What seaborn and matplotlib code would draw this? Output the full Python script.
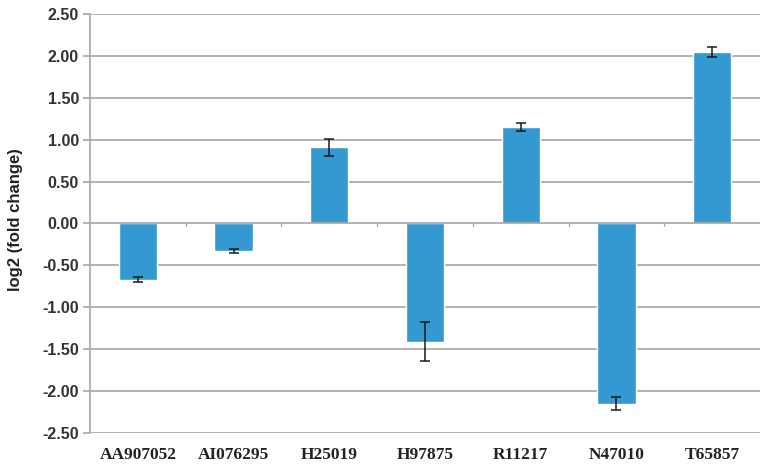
import matplotlib
matplotlib.use("Agg")
import matplotlib.pyplot as plt
import matplotlib.transforms as mtransforms
import numpy as np
import pandas as pd
import seaborn as sns

genes = ["AA907052", "AI076295", "H25019", "H97875", "R11217", "N47010", "T65857"]
log2_fc = [-0.67, -0.33, 0.91, -1.41, 1.15, -2.15, 2.05]
errors = [0.03, 0.02, 0.10, 0.23, 0.05, 0.08, 0.06]
y_ticks = [-2.5, -2.0, -1.5, -1.0, -0.5, 0.0, 0.5, 1.0, 1.5, 2.0, 2.5]

df = pd.DataFrame({"gene": genes, "fc": log2_fc, "err": errors})

sns.set_theme(style="white")
fig = plt.figure(figsize=(7.63, 4.70), dpi=100)
ax = fig.add_axes([0.118, 0.079, 0.878, 0.891])

bar_color = "#3399d0"
grid_color = "#a6a6a6"

sns.barplot(data=df, x="gene", y="fc", color=bar_color, width=0.4,
            saturation=1, ax=ax, zorder=3, errorbar=None)
ax.errorbar(x=np.arange(len(genes)), y=df["fc"], yerr=df["err"], fmt="none",
            ecolor="#1a1a1a", elinewidth=1.1, capsize=3.5, capthick=1.1, zorder=4)

ax.set_ylim(-2.5, 2.5)
ax.set_xlim(-0.5, len(genes) - 0.5)
ax.set_yticks(y_ticks)
ax.set_yticklabels([f"{v:.2f}" for v in y_ticks])

# horizontal gridlines
for v in y_ticks:
    if v != 0:
        ax.axhline(v, color=grid_color, lw=1.2, zorder=1)
ax.axhline(0, color=grid_color, lw=1.2, zorder=5)

# small category-divider ticks on the zero line
trans = mtransforms.blended_transform_factory(ax.transData, ax.transAxes)
for b in np.arange(0.5, len(genes) - 0.5, 1.0):
    ax.plot([b, b], [0.5, 0.493], transform=trans, color=grid_color, lw=0.9, zorder=5)

for side in ["top", "right", "bottom"]:
    ax.spines[side].set_visible(False)
ax.spines["left"].set_color(grid_color)
ax.spines["left"].set_linewidth(1.2)

ax.tick_params(axis="y", which="major", length=5, width=1.2, color=grid_color,
               direction="out", left=True, pad=3)
ax.tick_params(axis="x", length=0, pad=10)

for lbl in ax.get_yticklabels():
    lbl.set_fontfamily(["Liberation Sans", "DejaVu Sans"])
    lbl.set_fontweight("bold")
    lbl.set_fontsize(11.5)
    lbl.set_color("#333333")
for lbl in ax.get_xticklabels():
    lbl.set_fontfamily(["Liberation Serif", "DejaVu Serif"])
    lbl.set_fontweight("bold")
    lbl.set_fontsize(12.5)
    lbl.set_color("#222222")

ax.set_xlabel("")
ax.set_ylabel("log2 (fold change)", fontfamily=["Liberation Sans", "DejaVu Sans"],
              fontweight="bold", fontsize=12, color="#222222")
ax.yaxis.set_label_coords(-0.1, 0.51)

fig.savefig("out.png", dpi=100)
